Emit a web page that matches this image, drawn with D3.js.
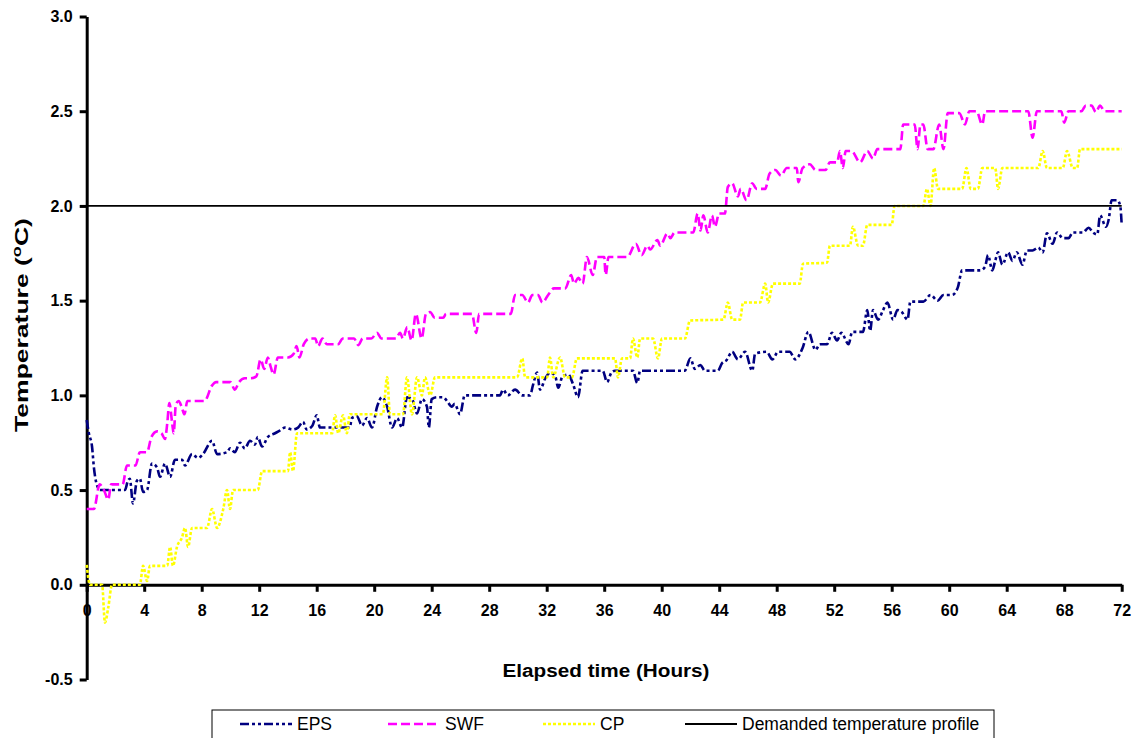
<!DOCTYPE html>
<html>
<head>
<meta charset="utf-8">
<script src="https://cdn.jsdelivr.net/npm/d3@7/dist/d3.min.js"></script>
<style>
  html, body { margin: 0; padding: 0; background: #fff; }
  svg { display: block; font-family: Arial, "Liberation Sans", sans-serif; }
</style>
</head>
<body>
<svg id="chart" width="1143" height="738"></svg>
<script>
// Temperature records over 72 hours, [hours, °C]
const epsSeries = [
  [0,0.87],[0.15,0.80],[0.37,0.73],[0.5,0.62],[0.8,0.51],[0.93,0.50],[2.66,0.50],[2.87,0.55],[3.0,0.56],
  [3.22,0.43],[3.5,0.55],[3.7,0.56],[3.92,0.49],[4.2,0.50],[4.54,0.64],[4.89,0.62],[5.1,0.57],[5.45,0.64],
  [5.8,0.57],[6.14,0.66],[6.63,0.66],[6.84,0.63],[7.33,0.69],[7.74,0.67],[8.09,0.69],[8.72,0.76],[9.07,0.69],
  [9.76,0.70],[9.97,0.72],[10.3,0.70],[10.66,0.75],[11.0,0.72],[11.36,0.76],[11.7,0.74],[11.9,0.78],[12.2,0.73],
  [12.6,0.78],[13.1,0.80],[13.45,0.815],[13.8,0.83],[14.3,0.82],[14.7,0.83],[15.05,0.86],[15.3,0.82],[15.7,0.84],
  [16.0,0.895],[16.23,0.83],[18.3,0.83],[18.45,0.88],[18.8,0.89],[19.15,0.84],[19.5,0.88],[19.85,0.83],
  [20.2,0.94],[20.54,0.99],[20.9,0.94],[21.24,0.83],[21.6,0.88],[21.94,0.83],[22.28,0.99],[22.63,0.98],
  [22.98,0.905],[23.32,0.98],[23.67,0.94],[23.8,0.83],[24.0,0.98],[24.37,0.99],[24.8,0.99],[25.07,0.97],
  [25.4,0.94],[25.6,0.955],[25.97,0.90],[26.3,1.0],[28.75,1.0],[28.96,1.03],[29.3,1.0],[29.8,1.03],[30.3,1.0],
  [30.84,1.0],[31.05,1.055],[31.33,1.12],[31.54,1.03],[31.9,1.09],[32.24,1.12],[32.6,1.10],[32.8,1.04],
  [33.1,1.10],[33.5,1.11],[33.83,1.06],[34.18,0.99],[34.5,1.13],[35.9,1.13],[36.2,1.07],[36.5,1.12],
  [36.75,1.13],[38.0,1.13],[38.3,1.065],[38.5,1.13],[41.6,1.13],[42.0,1.195],[42.3,1.14],[42.7,1.16],
  [43.0,1.13],[43.9,1.13],[44.2,1.17],[44.5,1.185],[44.9,1.23],[45.3,1.19],[45.8,1.23],[46.3,1.13],
  [46.5,1.22],[47.3,1.23],[47.7,1.19],[48.1,1.23],[48.9,1.23],[49.3,1.19],[49.8,1.25],[50.2,1.335],
  [50.7,1.24],[51.0,1.27],[51.5,1.27],[51.85,1.33],[52.2,1.29],[52.5,1.33],[53.0,1.27],[53.25,1.335],
  [54.0,1.335],[54.3,1.45],[54.5,1.34],[54.7,1.45],[55.05,1.40],[55.4,1.45],[55.7,1.49],[56.1,1.40],
  [56.4,1.45],[56.7,1.44],[57.1,1.40],[57.3,1.495],[58.2,1.495],[58.7,1.53],[59.2,1.50],[59.6,1.53],
  [60.2,1.53],[60.6,1.57],[60.9,1.66],[62.15,1.66],[62.5,1.68],[62.7,1.74],[63.0,1.66],[63.2,1.71],
  [63.4,1.755],[63.7,1.69],[64.1,1.755],[64.4,1.71],[64.7,1.755],[65.1,1.69],[65.4,1.765],[65.8,1.765],
  [66.2,1.78],[66.5,1.755],[66.8,1.855],[67.2,1.80],[67.5,1.86],[67.9,1.83],[68.3,1.83],[68.6,1.86],
  [69.3,1.86],[69.7,1.885],[70.0,1.86],[70.3,1.85],[70.5,1.95],[70.9,1.89],[71.1,1.93],[71.3,2.03],
  [71.7,2.03],[71.9,2.0],[72.0,1.90]
];

const swfSeries = [
  [0,0.40],[0.5,0.40],[0.9,0.53],[1.2,0.50],[1.5,0.45],[1.7,0.53],[2.5,0.53],[2.8,0.63],[3.4,0.63],
  [3.7,0.70],[4.2,0.70],[4.5,0.78],[4.9,0.81],[5.2,0.80],[5.45,0.77],[5.6,0.85],[5.75,0.96],[5.95,0.85],
  [6.05,0.80],[6.2,0.95],[6.4,0.97],[6.6,0.94],[6.8,0.90],[7.0,0.97],[8.2,0.97],[8.7,1.05],[9.0,1.07],
  [10.0,1.07],[10.3,1.03],[10.6,1.07],[11.0,1.09],[11.4,1.09],[11.8,1.10],[12.1,1.19],[12.35,1.14],
  [12.6,1.2],[12.8,1.15],[13.0,1.11],[13.3,1.2],[14.0,1.2],[14.4,1.22],[14.6,1.26],[14.8,1.2],[15.1,1.27],
  [15.5,1.3],[15.9,1.3],[16.1,1.26],[16.4,1.3],[16.7,1.27],[17.5,1.27],[17.8,1.3],[18.6,1.3],[18.9,1.265],
  [19.2,1.3],[19.8,1.3],[20.2,1.33],[20.5,1.30],[21.5,1.30],[21.8,1.33],[22.0,1.30],[22.3,1.36],[22.6,1.29],
  [22.9,1.43],[23.3,1.30],[23.6,1.43],[23.9,1.44],[24.2,1.41],[24.8,1.41],[25.0,1.43],[26.8,1.43],
  [27.1,1.33],[27.3,1.43],[29.5,1.43],[29.8,1.53],[30.3,1.53],[30.7,1.49],[31.0,1.53],[31.4,1.53],
  [31.7,1.49],[32.1,1.53],[32.5,1.565],[33.3,1.565],[33.7,1.635],[33.9,1.59],[34.2,1.62],[34.5,1.59],
  [34.8,1.73],[35.2,1.635],[35.5,1.73],[36.0,1.73],[36.1,1.635],[36.3,1.73],[37.6,1.73],[38.2,1.80],
  [38.6,1.74],[39.0,1.79],[39.2,1.77],[39.7,1.82],[39.9,1.79],[40.4,1.855],[40.6,1.83],[40.9,1.86],
  [42.2,1.86],[42.5,1.96],[42.7,1.87],[42.9,1.95],[43.2,1.86],[43.5,1.95],[43.7,1.89],[44.0,1.96],
  [44.4,1.96],[44.6,2.10],[44.9,2.12],[45.3,2.05],[45.5,2.09],[45.9,2.03],[46.3,2.12],[46.6,2.09],
  [47.2,2.09],[47.5,2.17],[47.9,2.19],[48.3,2.16],[48.7,2.2],[49.4,2.2],[49.5,2.125],[49.8,2.2],
  [50.3,2.22],[50.7,2.19],[51.4,2.19],[51.7,2.23],[52.2,2.23],[52.4,2.29],[52.6,2.2],[52.8,2.29],
  [53.2,2.29],[53.8,2.23],[54.3,2.29],[54.7,2.25],[55.0,2.30],[56.6,2.30],[56.8,2.43],[57.6,2.43],
  [57.8,2.30],[58.0,2.43],[58.2,2.43],[58.5,2.30],[58.9,2.30],[59.3,2.43],[59.6,2.30],[59.9,2.49],
  [60.7,2.49],[61.1,2.43],[61.4,2.5],[61.9,2.5],[62.3,2.43],[62.5,2.5],[65.5,2.5],[65.8,2.36],[66.1,2.5],
  [67.8,2.5],[68.0,2.44],[68.3,2.5],[69.2,2.5],[69.5,2.53],[69.9,2.53],[70.2,2.495],[70.5,2.53],
  [70.8,2.5],[72,2.5]
];

const cpSeries = [
  [0,0.105],[0.23,0.0],[1.07,0.0],[1.27,-0.20],[1.5,-0.12],[1.76,0.0],[3.7,0.0],[3.92,0.1],[4.2,0.02],
  [4.4,0.1],[5.6,0.1],[5.8,0.2],[6.0,0.1],[6.28,0.2],[6.63,0.25],[6.84,0.3],[7.05,0.2],[7.33,0.3],
  [8.37,0.3],[8.72,0.4],[9.07,0.3],[9.5,0.4],[9.76,0.5],[9.97,0.4],[10.18,0.5],[11.9,0.5],[12.2,0.6],
  [14.0,0.6],[14.15,0.7],[14.35,0.6],[14.63,0.8],[17.07,0.8],[17.28,0.895],[17.5,0.8],[17.83,0.895],
  [18.1,0.8],[18.3,0.9],[20.6,0.9],[20.9,1.095],[21.1,0.9],[22.0,0.9],[22.28,1.095],[22.63,0.9],
  [22.98,1.095],[23.32,1.0],[23.53,1.095],[23.9,1.0],[24.23,1.095],[29.94,1.095],[30.3,1.195],[30.5,1.095],
  [32.03,1.095],[32.23,1.2],[32.45,1.095],[32.93,1.2],[33.28,1.095],[33.76,1.095],[34.1,1.195],
  [36.75,1.195],[36.96,1.095],[37.24,1.195],[37.8,1.195],[38.0,1.3],[38.3,1.2],[38.5,1.3],[39.4,1.3],
  [39.74,1.195],[40.02,1.3],[41.62,1.3],[41.97,1.395],[44.3,1.4],[44.6,1.49],[44.9,1.4],[45.45,1.4],
  [45.66,1.49],[46.84,1.49],[47.2,1.59],[47.4,1.49],[47.74,1.59],[49.6,1.59],[49.83,1.695],[51.5,1.7],
  [51.7,1.79],[53.1,1.79],[53.3,1.89],[53.66,1.79],[54.0,1.79],[54.3,1.9],[56.0,1.9],[56.2,2.0],
  [58.2,2.0],[58.45,2.09],[58.7,2.0],[58.95,2.2],[59.22,2.09],[60.9,2.09],[61.2,2.2],[61.5,2.09],
  [62.0,2.09],[62.3,2.2],[63.2,2.2],[63.4,2.09],[63.7,2.2],[66.2,2.2],[66.5,2.29],[66.8,2.2],[67.9,2.2],
  [68.2,2.29],[68.6,2.2],[68.9,2.2],[69.1,2.3],[72.0,2.3]
];

const demandedSeries = [[0, 2.0], [72, 2.0]];

const seriesNames = ["EPS", "SWF", "CP", "Demanded temperature profile"];
const xTicks = [0, 4, 8, 12, 16, 20, 24, 28, 32, 36, 40, 44, 48, 52, 56, 60, 64, 68, 72];
const yTicks = [-0.5, 0.0, 0.5, 1.0, 1.5, 2.0, 2.5, 3.0];
const xTitle = "Elapsed time (Hours)";

const svg = d3.select("#chart");

const x = d3.scaleLinear().domain([0, 72]).range([86.7, 1121.7]);
const y = d3.scaleLinear().domain([-0.5, 3.0]).range([679.5, 16.5]);

const styles = [
  { data: epsSeries, color: "#000080", dash: "9,3,3,3,3,3", width: 2.6 },
  { data: swfSeries, color: "#FF00FF", dash: "9,4", width: 2.6 },
  { data: cpSeries, color: "#FFFF00", dash: "3,2", width: 2.6 },
  { data: demandedSeries, color: "#000000", dash: null, width: 1.8 }
];

// fixed one-decimal labels with a plain hyphen for negatives
const fmtY = d => d.toFixed(1);

// y axis
const yAxis = d3.axisLeft(y)
  .tickValues(yTicks)
  .tickFormat(fmtY)
  .tickSize(7)
  .tickSizeOuter(0)
  .tickPadding(7);
const gy = svg.append("g").attr("transform", `translate(${x(0)},0)`).call(yAxis);
gy.select(".domain").attr("stroke", "#000").attr("stroke-width", 3);
gy.selectAll(".tick line").attr("stroke", "#000").attr("stroke-width", 3);
gy.selectAll(".tick text")
  .attr("font-family", "Arial, 'Liberation Sans', sans-serif")
  .attr("font-size", 16).attr("font-weight", "bold").attr("fill", "#000");

// x axis across zero
const xAxis = d3.axisBottom(x)
  .tickValues(xTicks)
  .tickFormat(d => String(d))
  .tickSize(7)
  .tickSizeOuter(0)
  .tickPadding(13);
const gx = svg.append("g").attr("transform", `translate(0,${y(0)})`).call(xAxis);
gx.select(".domain").attr("stroke", "#000").attr("stroke-width", 3);
gx.selectAll(".tick line").attr("stroke", "#000").attr("stroke-width", 3);
gx.selectAll(".tick text")
  .attr("font-family", "Arial, 'Liberation Sans', sans-serif")
  .attr("font-size", 16).attr("font-weight", "bold").attr("fill", "#000");

// series lines
const line = d3.line()
  .x(d => x(d[0]))
  .y(d => y(d[1]))
  .curve(d3.curveMonotoneX);

const gLines = svg.append("g");
styles.forEach(s => {
  gLines.append("path")
    .datum(s.data)
    .attr("d", line)
    .attr("fill", "none")
    .attr("stroke", s.color)
    .attr("stroke-width", s.width)
    .attr("stroke-dasharray", s.dash)
    .attr("stroke-linejoin", "round");
});

// stretch a title horizontally (along its own baseline) to a target length
function fitLength(textSel, target) {
  const len = textSel.node().getComputedTextLength();
  return len > 0 ? target / len : 1;
}

// axis titles
const yTitleG = svg.append("g");
const yTitle = yTitleG.append("text")
  .attr("text-anchor", "middle")
  .attr("font-size", 19).attr("font-weight", "bold").attr("fill", "#000");
yTitle.append("tspan").text("Temperature (");
yTitle.append("tspan").attr("font-size", 13).attr("dy", -7).text("o");
yTitle.append("tspan").attr("dy", 7).text("C)");
const ySx = fitLength(yTitle, 214);
yTitleG.attr("transform", `translate(28,325) rotate(-90) scale(${ySx},1)`);

const xTitleG = svg.append("g");
const xTitleText = xTitleG.append("text")
  .attr("text-anchor", "middle")
  .attr("font-size", 19).attr("font-weight", "bold").attr("fill", "#000")
  .text(xTitle);
const xSx = fitLength(xTitleText, 207);
xTitleG.attr("transform", `translate(606,677) scale(${xSx},1)`);

// legend
const legend = svg.append("g");
legend.append("rect")
  .attr("x", 212).attr("y", 710).attr("width", 782).attr("height", 40)
  .attr("fill", "#fff").attr("stroke", "#000").attr("stroke-width", 1);

const legendX = [240, 388, 543, 685];
styles.forEach((s, i) => {
  legend.append("line")
    .attr("x1", legendX[i]).attr("x2", legendX[i] + 52)
    .attr("y1", 724).attr("y2", 724)
    .attr("stroke", s.color)
    .attr("stroke-width", s.dash ? 2.6 : 1.8)
    .attr("stroke-dasharray", s.dash);
  legend.append("text")
    .attr("x", legendX[i] + 57).attr("y", 730)
    .attr("font-size", 17.5).attr("fill", "#000")
    .text(seriesNames[i]);
});
</script>
</body>
</html>
